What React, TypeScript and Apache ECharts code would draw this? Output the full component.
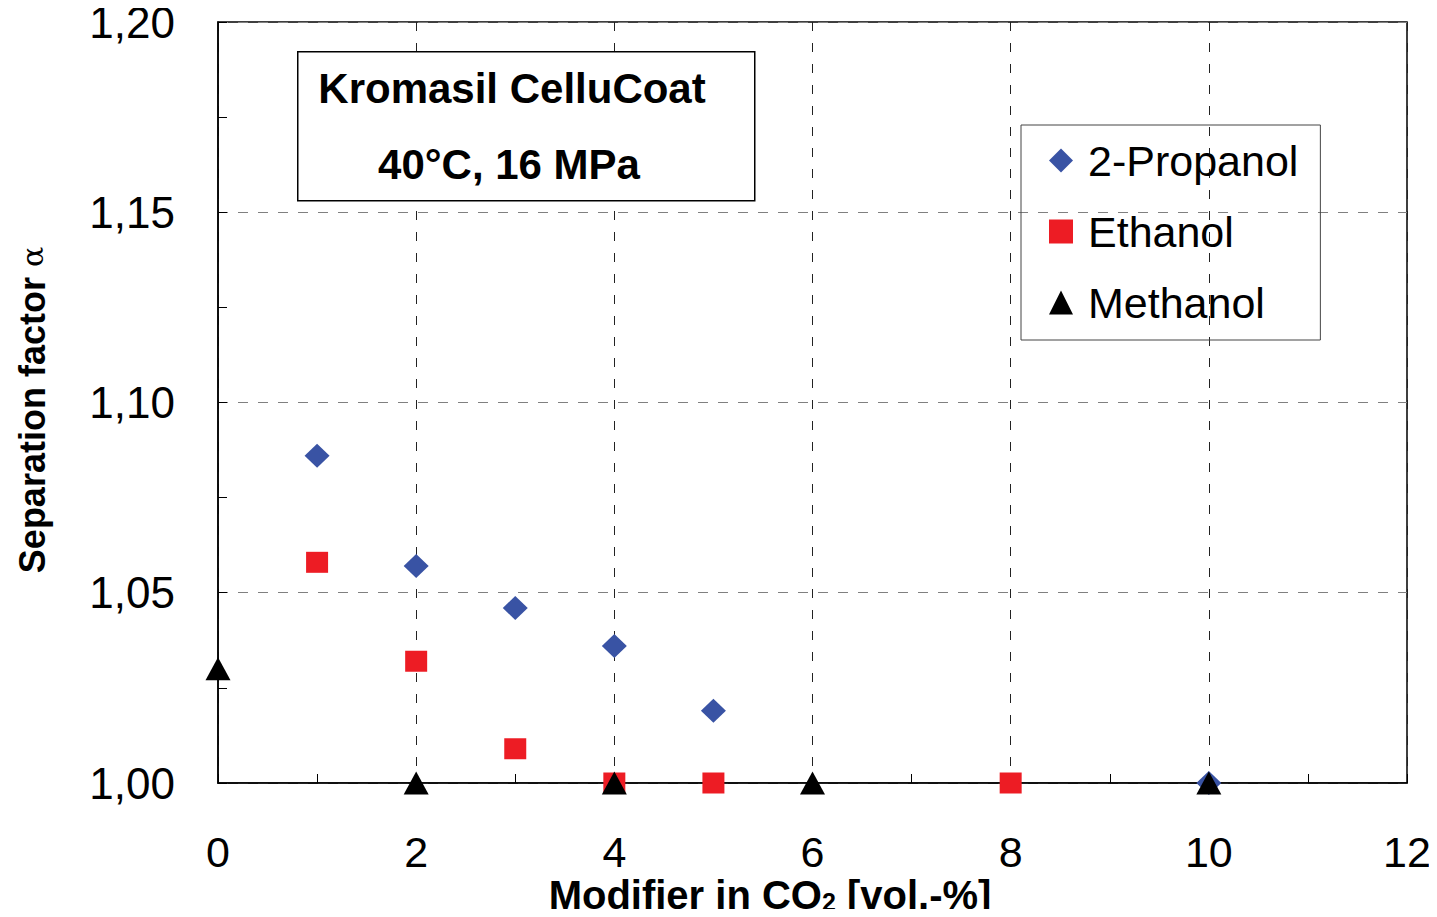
import React, { useEffect, useRef } from "react";
import * as echarts from "echarts";

const seriesNames = ["2-Propanol", "Ethanol", "Methanol"];
const propanolData: [number, number][] = [
  [1, 1.086], [2, 1.057], [3, 1.046], [4, 1.036], [5, 1.019], [10, 1.0],
];
const ethanolData: [number, number][] = [
  [1, 1.058], [2, 1.032], [3, 1.009], [4, 1.0], [5, 1.0], [8, 1.0],
];
const methanolData: [number, number][] = [
  [0, 1.03], [2, 1.0], [4, 1.0], [6, 1.0], [10, 1.0],
];
const annotationLines = ["Kromasil CelluCoat", "40°C, 16 MPa"];
const xTitle = "{b|Modifier in CO}{s|2}{b| [vol.-%]}";

const FONT = "Liberation Sans, Arial, Helvetica, sans-serif";

export default function App() {
  const ref = useRef<HTMLDivElement>(null);
  useEffect(() => {
    if (!ref.current) return;
    const chart = echarts.init(ref.current, null, { renderer: "svg" });
    chart.setOption({
      animation: false,
      backgroundColor: "#ffffff",
      textStyle: { fontFamily: FONT },
      grid: {
        left: 210,
        top: 14,
        width: 1189,
        height: 761,
        show: true,
        borderColor: "#000",
        borderWidth: 1.5,
        outerBoundsMode: "none",
        containLabel: false,
      },
      xAxis: {
        type: "value",
        min: 0,
        max: 12,
        interval: 2,
        axisLine: { show: true, onZero: false, lineStyle: { color: "#000", width: 1.5 } },
        axisTick: { show: true, inside: true, length: 9, lineStyle: { color: "#000", width: 1 } },
        minorTick: { show: true, splitNumber: 2, length: 9, lineStyle: { color: "#000", width: 1 } },
        axisLabel: { fontSize: 43, lineHeight: 34, color: "#000", margin: 52, fontFamily: FONT },
        splitLine: { show: true, lineStyle: { color: "#222", type: [9, 12], width: 1 } },
      },
      yAxis: {
        type: "value",
        min: 1.0,
        max: 1.2,
        interval: 0.05,
        axisLine: { show: true, onZero: false, lineStyle: { color: "#000", width: 1.5 } },
        axisTick: { show: true, inside: true, length: 9, lineStyle: { color: "#000", width: 1 } },
        minorTick: { show: true, splitNumber: 2, length: 9, lineStyle: { color: "#000", width: 1 } },
        axisLabel: {
          fontSize: 44,
          lineHeight: 28,
          color: "#000",
          margin: 43,
          fontFamily: FONT,
          formatter: (v: number) => v.toFixed(2).replace(".", ","),
        },
        splitLine: { show: true, lineStyle: { color: "#808080", type: [10, 10], width: 1 } },
        name: "{b|Separation factor }{a|α}",
        nameLocation: "middle",
        nameGap: 168,
        nameRotate: 90,
        nameTextStyle: {
          padding: [0, 15, 0, 0],
          rich: {
            b: { fontSize: 36, fontWeight: "bold", color: "#000", fontFamily: FONT },
            a: { fontSize: 30, color: "#000", fontFamily: "DejaVu Serif, serif" },
          },
        },
      },
      legend: {
        orient: "vertical",
        left: 1013,
        top: 117,
        data: seriesNames,
        borderColor: "#444",
        borderWidth: 1,
        padding: [14, 22, 16, 28],
        itemGap: 28,
        itemWidth: 24,
        itemHeight: 24,
        textStyle: { fontSize: 43, lineHeight: 42, color: "#000", fontFamily: FONT, padding: [0, 0, 0, 10] },
      },
      graphic: [
        {
          type: "rect",
          left: 289,
          top: 43,
          shape: { width: 457, height: 149 },
          style: { fill: "#fff", stroke: "#000", lineWidth: 1.5 },
          z: 10,
        },
        {
          type: "text",
          x: 512 - 8,
          y: 88 - 8,
          style: {
            text: annotationLines[0],
            fill: "#000",
            font: `bold 42px ${FONT}`,
            textAlign: "center",
            textVerticalAlign: "middle",
          },
          z: 11,
        },
        {
          type: "text",
          x: 509 - 8,
          y: 164 - 8,
          style: {
            text: annotationLines[1],
            fill: "#000",
            font: `bold 42px ${FONT}`,
            textAlign: "center",
            textVerticalAlign: "middle",
          },
          z: 11,
        },
        {
          type: "text",
          x: 770 - 8,
          y: 895 - 8,
          style: {
            text: xTitle,
            textAlign: "center",
            textVerticalAlign: "middle",
            rich: {
              b: { fontSize: 40, lineHeight: 36, fontWeight: "bold", fill: "#000", fontFamily: FONT },
              s: { fontSize: 25, lineHeight: 36, fontWeight: "bold", fill: "#000", fontFamily: FONT, padding: [14, 0, 0, 0] },
            },
          },
          z: 11,
        },
      ],
      series: [
        {
          name: seriesNames[0],
          type: "scatter",
          symbol: "diamond",
          symbolSize: [25, 24],
          itemStyle: { color: "#3953a4", opacity: 1 },
          data: propanolData,
          z: 3,
        },
        {
          name: seriesNames[1],
          type: "scatter",
          symbol: "rect",
          symbolSize: [22, 21],
          itemStyle: { color: "#ed1c24", opacity: 1 },
          data: ethanolData,
          z: 4,
        },
        {
          name: seriesNames[2],
          type: "scatter",
          symbol: "triangle",
          symbolSize: [25, 23],
          itemStyle: { color: "#000", opacity: 1 },
          data: methanolData,
          z: 5,
        },
      ],
    });
    return () => chart.dispose();
  }, []);
  return <div ref={ref} style={{ width: 1429, height: 909, marginBottom: -8 }} />;
}
